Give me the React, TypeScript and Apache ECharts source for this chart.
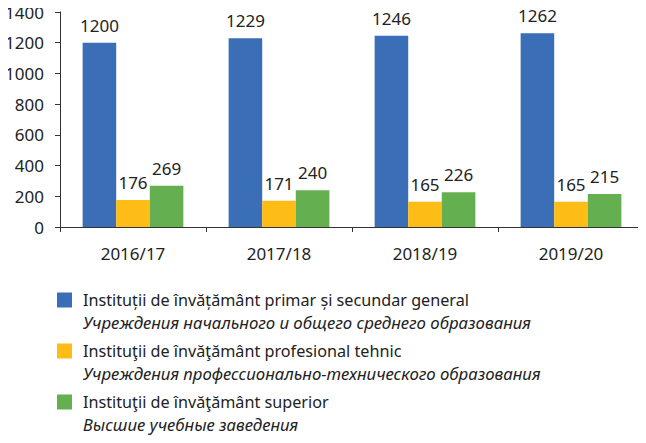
import React, { useEffect, useRef } from "react";
import * as echarts from "echarts";

const categories = ["2016/17", "2017/18", "2018/19", "2019/20"];
const seriesNamesRo = [
  "Instituții de învățământ primar și secundar general",
  "Instituţii de învăţământ profesional tehnic",
  "Instituţii de învăţământ superior",
];
const seriesNamesRu = [
  "Учреждения начального и общего среднего образования",
  "Учреждения профессионально-технического образования",
  "Высшие учебные заведения",
];
const primarySecondary = [1200, 1229, 1246, 1262];
const vocational = [176, 171, 165, 165];
const higher = [269, 240, 226, 215];
const colors = ["#3A6EB6", "#FDBD16", "#64AF4F"];
const yTicks = { min: 0, max: 1400, interval: 200 };

const FONT = "'Noto Sans', 'Open Sans', sans-serif";

export default function App() {
  const ref = useRef<HTMLDivElement>(null);
  useEffect(() => {
    if (!ref.current) return;
    const chart = echarts.init(ref.current, undefined, { renderer: "svg" });
    const values = [primarySecondary, vocational, higher];
    const label = {
      show: true,
      position: "top" as const,
      distance: 9,
      fontSize: 17,
      fontFamily: FONT,
      color: "#222",
    };
    chart.setOption({
      animation: false,
      textStyle: { fontFamily: FONT },
      grid: { left: 60, right: 2, top: 12, bottom: 216, containLabel: false },
      xAxis: {
        type: "category",
        data: categories,
        axisLine: { lineStyle: { color: "#333", width: 1 } },
        axisTick: { show: true, length: 5, lineStyle: { color: "#333" } },
        axisLabel: { fontSize: 17, color: "#222", margin: 18, fontFamily: FONT },
      },
      yAxis: {
        type: "value",
        min: yTicks.min,
        max: yTicks.max,
        interval: yTicks.interval,
        splitLine: { show: false },
        axisLine: { show: true, lineStyle: { color: "#333", width: 1 } },
        axisTick: { show: true, length: 5, lineStyle: { color: "#333" } },
        axisLabel: {
          fontSize: 17,
          color: "#222",
          margin: 16,
          fontFamily: FONT,
          formatter: (v: number) => String(v),
        },
      },
      legend: {
        orient: "vertical",
        left: 57,
        top: 267,
        padding: 0,
        itemWidth: 15,
        itemHeight: 15,
        itemGap: -12.5,
        icon: "rect",
        data: seriesNamesRo,
        formatter: (name: string) => {
          const i = seriesNamesRo.indexOf(name);
          return `{e| }\n{a|${name}}\n{b|${seriesNamesRu[i]}}`;
        },
        textStyle: {
          fontFamily: FONT,
          color: "#222",
          rich: {
            e: { fontSize: 16, lineHeight: 22, height: 22, padding: [0, 0, 0, 6] },
            a: { fontSize: 16.2, lineHeight: 22, color: "#222", fontFamily: FONT, padding: [0, 0, 0, 6] },
            b: {
              fontSize: 16.8,
              lineHeight: 22,
              color: "#222",
              fontFamily: FONT,
              fontStyle: "italic",
              padding: [0, 0, 0, 6],
            },
          },
        },
      },
      series: seriesNamesRo.map((name, i) => ({
        name,
        type: "bar",
        data: values[i],
        barGap: "0%",
        barCategoryGap: "31%",
        itemStyle: { color: colors[i] },
        label,
      })),
    });
    return () => chart.dispose();
  }, []);
  return <div ref={ref} style={{ width: 646, height: 443, margin: -8 }} />;
}
